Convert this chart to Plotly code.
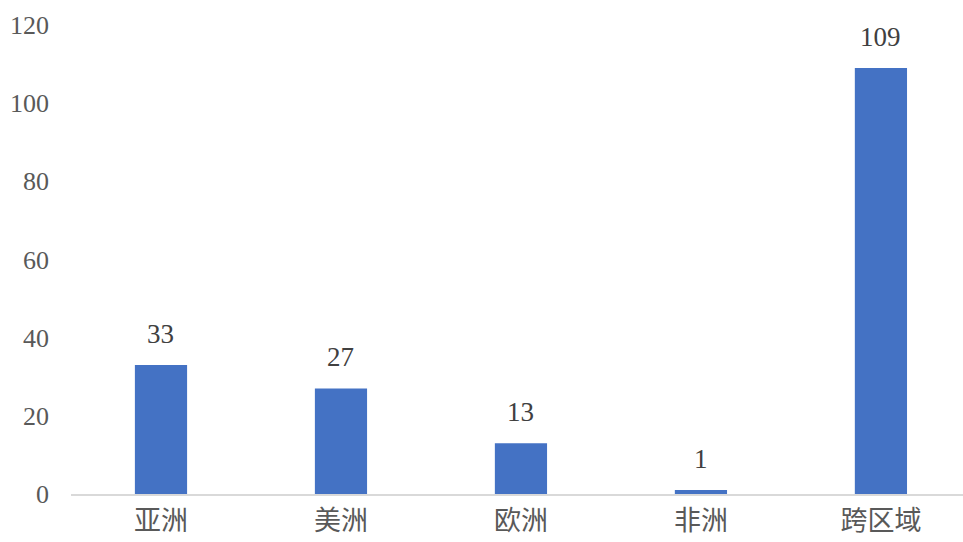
import plotly.graph_objects as go

categories = ["亚洲", "美洲", "欧洲", "非洲", "跨区域"]
values = [33, 27, 13, 1, 109]
y_ticks = [0, 20, 40, 60, 80, 100, 120]

BAR_COLOR = "#4472C4"
TEXT_COLOR = "#404040"

fig = go.Figure()
fig.add_trace(go.Bar(
    x=categories, y=values, width=0.29,
    marker=dict(color=BAR_COLOR, line=dict(width=0)),
    hoverinfo="skip",
))

for c, v in zip(categories, values):
    fig.add_annotation(
        x=c, y=v, text=str(v), showarrow=False,
        yanchor="bottom", yshift=14,
        font=dict(family="Liberation Serif", size=27, color=TEXT_COLOR),
    )

fig.update_layout(
    width=963, height=542,
    margin=dict(l=71, r=0, t=25, b=48, autoexpand=False),
    paper_bgcolor="white", plot_bgcolor="white",
    showlegend=False,
)
fig.update_xaxes(
    range=[-0.5, 4.456], automargin=False,
    showline=True, linecolor="#d9d9d9", linewidth=2,
    showgrid=False, ticks="", ticklabelstandoff=2,
    tickfont=dict(family="Noto Sans CJK SC", size=27, color="#595959"),
)
fig.update_yaxes(
    range=[0, 120], tickvals=y_ticks, automargin=False,
    showgrid=False, zeroline=False, showline=False,
    ticks="", ticklabelstandoff=21,
    tickfont=dict(family="Liberation Serif", size=26, color="#595959"),
)

fig.write_html("out.html")
